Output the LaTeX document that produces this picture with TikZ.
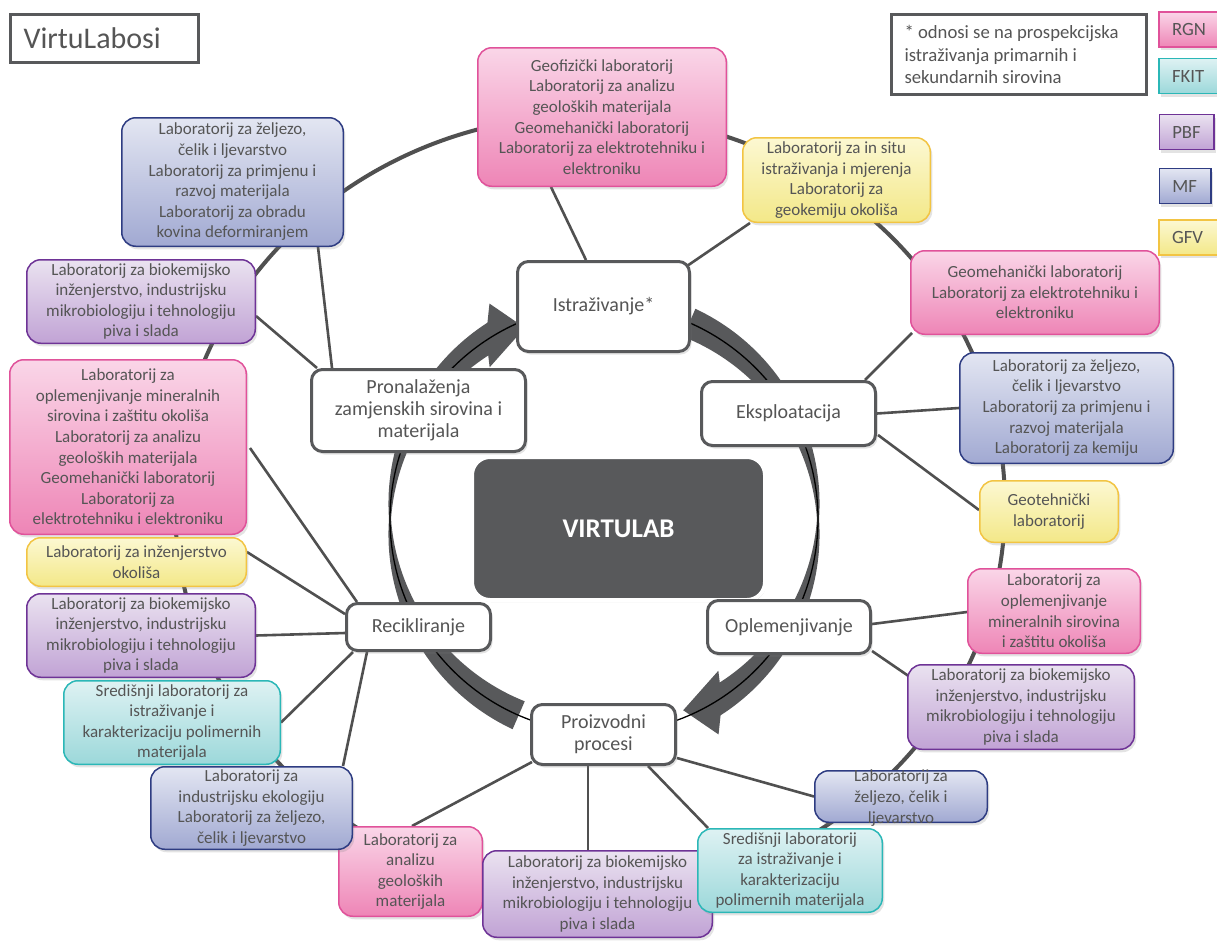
\documentclass[tikz,border=0pt]{standalone}
\usepackage{fontspec}
\setmainfont{Carlito}
\usetikzlibrary{calc,shadows}
\definecolor{txt}{HTML}{555555}
\definecolor{dk}{HTML}{58595B}
\definecolor{ln}{HTML}{505050}
\definecolor{pkD}{HTML}{E0529A}\definecolor{pkT}{HTML}{FAD6E8}\definecolor{pkB}{HTML}{EE85B6}
\definecolor{cyD}{HTML}{2BB7B7}\definecolor{cyT}{HTML}{DEF2F3}\definecolor{cyB}{HTML}{9CD8DA}
\definecolor{puD}{HTML}{6E3396}\definecolor{puT}{HTML}{EAE2F0}\definecolor{puB}{HTML}{C1A3D5}
\definecolor{blD}{HTML}{2E3C82}\definecolor{blT}{HTML}{E3E6F2}\definecolor{blB}{HTML}{A1A9D2}
\definecolor{yeD}{HTML}{F2C443}\definecolor{yeT}{HTML}{FCF8D2}\definecolor{yeB}{HTML}{F3E888}
\newcommand\lbfont{\fontsize{17}{20.6}\selectfont}
\newcommand\ctfont{\fontsize{20}{21.8}\selectfont}
\newcommand\ntfont{\fontsize{18.7}{22.8}\selectfont}
\pgfdeclarelayer{bg}
\pgfsetlayers{bg,main}
\tikzset{
  shad/.style={drop shadow={opacity=0.22,shadow xshift=2pt,shadow yshift=-3pt}},
  lab/.style={shad,line width=1.5pt,rounded corners=14pt,align=center,font=\lbfont,text=txt,inner sep=1pt},
  pkc/.style={draw=pkD,top color=pkT,bottom color=pkB},
  cyc/.style={draw=cyD,top color=cyT,bottom color=cyB},
  puc/.style={draw=puD,top color=puT,bottom color=puB},
  blc/.style={draw=blD,top color=blT,bottom color=blB},
  yec/.style={draw=yeD,top color=yeT,bottom color=yeB},
  cat/.style={shad,draw=dk,line width=3pt,fill=white,rounded corners=11pt,align=center,font=\ctfont,text=txt,inner sep=1pt},
  conn/.style={draw=ln,line width=2.6pt},
  leg/.style={shad,line width=1.5pt,minimum height=35,inner xsep=13pt,align=flush left,font=\ntfont,text=txt},
}
\begin{document}
\begin{tikzpicture}[x=1pt,y=-1pt]
\begin{pgfonlayer}{bg}
\fill[white] (0,0) rectangle (1217,940);
% outer ellipse
\draw[ln,line width=4pt] (590,505) ellipse [x radius=415, y radius=390];
% ring arrows
\fill[dk] plot[domain=293.5:419.3,samples=90] ({604+(214+0.5*(2+31*abs(sin(\x))))*cos(\x)},{519+(214+0.5*(2+31*abs(sin(\x))))*sin(\x)})
  -- ({604+244*cos(62)},{519+244*sin(62)})
  -- ({604+207*cos(67.5)},{519+207*sin(67.5)})
  -- ({604+190*cos(53)},{519+190*sin(53)})
  -- plot[domain=414.7:293.5,samples=90] ({604+(214-0.5*(2+31*abs(sin(\x))))*cos(\x)},{519+(214-0.5*(2+31*abs(sin(\x))))*sin(\x)}) -- cycle;
\fill[dk] plot[domain=113.5:239.3,samples=90] ({604+(214+0.5*(2+31*abs(sin(\x))))*cos(\x)},{519+(214+0.5*(2+31*abs(sin(\x))))*sin(\x)})
  -- ({604+244*cos(242)},{519+244*sin(242)})
  -- ({604+207*cos(247.5)},{519+207*sin(247.5)})
  -- ({604+190*cos(233)},{519+190*sin(233)})
  -- plot[domain=234.7:113.5,samples=90] ({604+(214-0.5*(2+31*abs(sin(\x))))*cos(\x)},{519+(214-0.5*(2+31*abs(sin(\x))))*sin(\x)}) -- cycle;
\draw[black,line width=1.3pt] (604,519) circle [radius=214];
\end{pgfonlayer}
\useasboundingbox (0,0) rectangle (1217,940);

% ---- central box
\node[draw=white,line width=4pt,fill=dk,rounded corners=18pt,minimum width=293,minimum height=143,
      font=\fontsize{27}{30}\selectfont\bfseries,text=white,
      drop shadow={opacity=0.3,shadow xshift=1pt,shadow yshift=-2pt}] (virt) at (618.5,528.5) {VIRTULAB};

% ---- lab boxes
\node[lab,pkc,minimum width=248.5,minimum height=138.5] (A) at (602,117) {Geofizički laboratorij\\Laboratorij za analizu\\geoloških materijala\\Geomehanički laboratorij\\Laboratorij za elektrotehniku i\\elektroniku};
\node[lab,yec,minimum width=187.5,minimum height=84.5] (B) at (836.5,180) {Laboratorij za in situ\\istraživanja i mjerenja\\Laboratorij za\\geokemiju okoliša};
\node[lab,blc,minimum width=221.5,minimum height=128.5] (C) at (232.5,182) {Laboratorij za željezo,\\čelik i ljevarstvo\\Laboratorij za primjenu i\\razvoj materijala\\Laboratorij za obradu\\kovina deformiranjem};
\node[lab,puc,minimum width=228.5,minimum height=83.5] (D) at (141,301.5) {Laboratorij za biokemijsko\\inženjerstvo, industrijsku\\mikrobiologiju i tehnologiju\\piva i slada};
\node[lab,pkc,minimum width=236.5,minimum height=174.5] (E) at (128,447) {Laboratorij za\\oplemenjivanje mineralnih\\sirovina i zaštitu okoliša\\Laboratorij za analizu\\geoloških materijala\\Geomehanički laboratorij\\Laboratorij za\\elektrotehniku i elektroniku};
\node[lab,yec,minimum width=219.5,minimum height=48.5] (F) at (136.5,562) {Laboratorij za inženjerstvo\\okoliša};
\node[lab,puc,minimum width=228.5,minimum height=83.5] (G) at (141,635.5) {Laboratorij za biokemijsko\\inženjerstvo, industrijsku\\mikrobiologiju i tehnologiju\\piva i slada};
\node[lab,cyc,minimum width=216.5,minimum height=83.5] (H) at (172,722.5) {Središnji laboratorij za\\istraživanje i\\karakterizaciju polimernih\\materijala};
\node[lab,pkc,minimum width=143.5,minimum height=89.5] (J) at (410.5,871.5) {Laboratorij za\\analizu\\geoloških\\materijala};
\node[lab,blc,minimum width=201.5,minimum height=82.5] (I) at (251.5,808) {Laboratorij za\\industrijsku ekologiju\\Laboratorij za željezo,\\čelik i ljevarstvo};
\node[lab,puc,minimum width=229.5,minimum height=86.5] (K) at (597.5,894) {Laboratorij za biokemijsko\\inženjerstvo, industrijsku\\mikrobiologiju i tehnologiju\\piva i slada};
\node[lab,blc,minimum width=172.5,minimum height=51.5] (M) at (901,796.5) {};
\node[font=\lbfont,text=txt,align=center,inner sep=0pt] (Mt) at (901,798) {Laboratorij za\\željezo, čelik i\\ljevarstvo};
\node[lab,cyc,minimum width=184.5,minimum height=83.5] (L) at (790,870.5) {Središnji laboratorij\\za istraživanje i\\karakterizaciju\\polimernih materijala};
\node[lab,puc,minimum width=226.5,minimum height=84.5] (N) at (1021,707) {Laboratorij za biokemijsko\\inženjerstvo, industrijsku\\mikrobiologiju i tehnologiju\\piva i slada};
\node[lab,pkc,minimum width=172.5,minimum height=84.5] (O) at (1054,611) {Laboratorij za\\oplemenjivanje\\mineralnih sirovina\\i zaštitu okoliša};
\node[lab,yec,minimum width=138.5,minimum height=61.5] (P) at (1049,511.5) {Geotehnički\\laboratorij};
\node[lab,blc,minimum width=213.5,minimum height=110.5] (Q) at (1066.5,408) {Laboratorij za željezo,\\čelik i ljevarstvo\\Laboratorij za primjenu i\\razvoj materijala\\Laboratorij za kemiju};
\node[lab,pkc,minimum width=248.5,minimum height=83.5] (R) at (1035,292.5) {Geomehanički laboratorij\\Laboratorij za elektrotehniku i\\elektroniku};

% ---- category boxes
\node[cat,minimum width=172,minimum height=90] (ist) at (603.5,306.5) {Istraživanje*};
\node[cat,minimum width=174,minimum height=64] (eks) at (788.5,413.5) {Eksploatacija};
\node[cat,minimum width=163,minimum height=53] (opl) at (789,627) {Oplemenjivanje};
\node[cat,minimum width=144,minimum height=60] (pro) at (603.5,734.5) {Proizvodni\\procesi};
\node[cat,minimum width=144,minimum height=47] (rec) at (418.5,627) {Recikliranje};
\node[cat,minimum width=214,minimum height=82] (pron) at (418.5,410.5) {Pronalaženja\\zamjenskih sirovina i\\materijala};

% ---- connectors (behind boxes)
\begin{pgfonlayer}{bg}
\draw[conn] ($(ist.north)+(-17.5,0)$) -- ($(A.south)+(-51,0)$);
\draw[conn] ($(ist.north east)+(-4,6)$) -- ($(B.south west)+(8,0)$);
\draw[conn] ($(eks.north)+(76.5,0)$) -- ($(R.south west)+(2,-2)$);
\draw[conn] (eks.east) -- (Q.west);
\draw[conn] ($(eks.east)+(1,21.5)$) -- ($(P.west)+(0,-1.5)$);
\draw[conn] ($(opl.east)+(0,-3)$) -- ($(O.west)+(0,1)$);
\draw[conn] ($(opl.south east)+(0,-4)$) -- ($(N.north west)+(3,13)$);
\draw[conn] ($(pro.east)+(0,23.5)$) -- (M.west);
\draw[conn] ($(pro.south)+(44.5,0)$) -- ($(L.north west)+(11,0)$);
\draw[conn] ($(pro.south)+(-15.5,0)$) -- ($(K.north)+(-9.5,0)$);
\draw[conn] ($(pro.south west)+(2,-4)$) -- ($(J.north)+(1.5,0)$);
\draw[conn] ($(rec.north west)+(12,0)$) -- ($(E.east)+(3,1)$);
\draw[conn] ($(rec.west)+(0,-13)$) -- ($(F.east)+(0,-10)$);
\draw[conn] ($(rec.west)+(0,6)$) -- (G.east);
\draw[conn] ($(rec.south west)+(8,0)$) -- (H.east);
\draw[conn] ($(rec.south west)+(22,0)$) -- ($(I.north east)+(-10,0)$);
\draw[conn] ($(pron.north west)+(22,0)$) -- ($(C.south east)+(-26,0)$);
\draw[conn] ($(pron.north west)+(7,0)$) -- ($(D.east)+(0,14.5)$);
\end{pgfonlayer}

% ---- title, note, legend
\node[draw=dk,line width=3pt,fill=white,minimum height=48,text width=162,inner xsep=13pt,align=flush left,
      font=\fontsize{30}{34}\selectfont,text=txt,drop shadow={opacity=0.2,shadow xshift=1.5pt,shadow yshift=-1.5pt}] (title) at (104.5,38.5) {VirtuLabosi};
\node[draw=dk,line width=3pt,fill=white,minimum height=80,text width=229,inner xsep=13pt,align=flush left,
      font=\ntfont,text=txt,drop shadow={opacity=0.2,shadow xshift=1.5pt,shadow yshift=-1.5pt}] (note) at (1019,54.5) {* odnosi se na prospekcijska\\istraživanja primarnih i\\sekundarnih sirovina};
\node[leg,pkc,text width=44] (rgn) at (1194,29.5) {RGN};
\node[leg,cyc,text width=44] (fkit) at (1194,76) {FKIT};
\node[leg,puc,text width=28.5] (pbf) at (1186.5,132) {PBF};
\node[leg,blc,text width=25.5] (mf) at (1185,186) {MF};
\node[leg,yec,text width=44] (gfv) at (1194,237.5) {GFV};
\end{tikzpicture}
\end{document}
